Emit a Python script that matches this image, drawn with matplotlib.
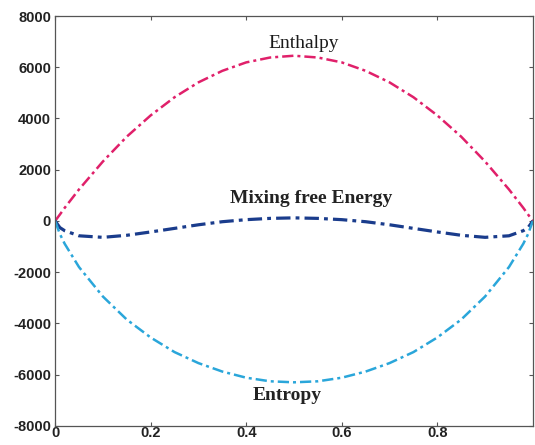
import matplotlib
matplotlib.use("Agg")
import matplotlib.pyplot as plt

x = [0, 0.01, 0.02, 0.05, 0.1, 0.15, 0.2, 0.25, 0.3, 0.35, 0.4, 0.45, 0.5,
     0.55, 0.6, 0.65, 0.7, 0.75, 0.8, 0.85, 0.9, 0.95, 0.98, 0.99, 1.0]
enthalpy = [0, 250, 510, 1230, 2320, 3290, 4120, 4830, 5410, 5860, 6190, 6380, 6450,
            6380, 6190, 5860, 5410, 4830, 4120, 3290, 2320, 1230, 510, 250, 0]
entropy = [0, -510, -890, -1800, -2950, -3850, -4550, -5120, -5550, -5880, -6120, -6260, -6300,
           -6260, -6120, -5880, -5550, -5120, -4550, -3850, -2950, -1800, -890, -510, 0]
mixing = [0, -260, -380, -580, -640, -560, -430, -290, -150, -30, 50, 100, 120,
          100, 50, -30, -150, -290, -430, -560, -640, -580, -380, -260, 0]

xticks = [0, 0.2, 0.4, 0.6, 0.8]
xticklabels = ['0', '0.2', '0.4', '0.6', '0.8']
yticks = [-8000, -6000, -4000, -2000, 0, 2000, 4000, 6000, 8000]

fig = plt.figure(figsize=(5.35, 4.45), dpi=100)
ax = fig.add_axes([0.103, 0.043, 0.893, 0.921])

dd = (0, (4.5, 1.6, 1.2, 1.6))
ax.plot(x, enthalpy, linestyle=dd, color='#e0206a', lw=1.8)
ax.plot(x, mixing, linestyle=dd, color='#1a3c8c', lw=2.3)
ax.plot(x, entropy, linestyle=dd, color='#2aa6da', lw=1.8)

ax.set_xlim(0, 1)
ax.set_ylim(-8000, 8000)
ax.set_xticks(xticks)
ax.set_yticks(yticks)
ax.set_xticklabels(xticklabels)
ax.set_yticklabels([str(v) for v in yticks])

ax.tick_params(direction='in', length=3, width=0.8, top=True, right=True,
               colors='#555555', labelcolor='#222222', pad=3)
for lab in ax.get_xticklabels() + ax.get_yticklabels():
    lab.set_fontfamily('Liberation Sans')
    lab.set_fontweight('bold')
    lab.set_fontsize(10.5)
ax.tick_params(axis='x', pad=0)
for s in ax.spines.values():
    s.set_color('#555555')
    s.set_linewidth(0.9)

ax.text(0.52, 6930, 'Enthalpy', family='Liberation Serif', fontsize=14,
        ha='center', va='center', color='#1a1a1a')
ax.text(0.535, 880, 'Mixing free Energy', family='Liberation Serif', fontsize=14,
        fontweight='bold', ha='center', va='center', color='#222222')
ax.text(0.485, -6820, 'Entropy', family='Liberation Serif', fontsize=14,
        fontweight='bold', ha='center', va='center', color='#222222')

fig.savefig('out.png', dpi=100)
